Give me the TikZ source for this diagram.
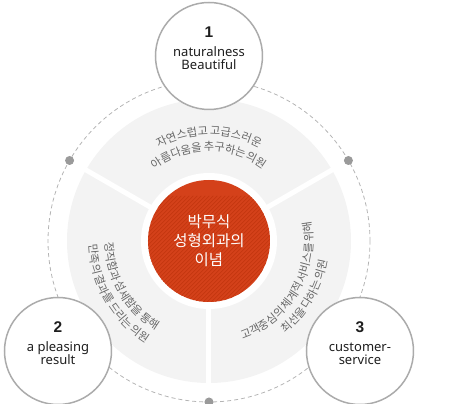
\documentclass[tikz,border=0pt]{standalone}
\usepackage{fontspec}
\setmainfont{Noto Sans}
\newfontfamily\kofont{Noto Sans CJK KR}
\newfontfamily\kotight[LetterSpace=-7]{Noto Sans CJK KR}
\newfontfamily\numfont{Liberation Sans}
\usetikzlibrary{decorations.text}
\definecolor{hubred}{HTML}{D4411A}
\definecolor{stripered}{HTML}{C4360F}
\definecolor{diskgray}{HTML}{F3F3F3}
\definecolor{rimgray}{HTML}{ABABAB}
\definecolor{dashgray}{HTML}{B4B4B4}
\definecolor{dotgray}{HTML}{9A9A9A}
\definecolor{txtgray}{HTML}{666666}
\definecolor{inkdark}{HTML}{1E1E1E}
\begin{document}
\begin{tikzpicture}[x=1pt,y=1pt,
  bubble/.style={circle,draw=rimgray,line width=1.5pt,fill=white,minimum size=107pt,inner sep=0pt},
  bubbletext/.style={align=center,font=\fontsize{13}{13}\selectfont,text=inkdark},
  hub/.style={circle,fill=hubred,minimum size=122pt,inner sep=0pt,text=white,align=center,
    font=\kofont\fontsize{15.5}{19}\selectfont,
    path picture={\foreach \k in {-150,-146,...,150}
      \draw[stripered,line width=0.8pt] (\k-70,-70) -- (\k+70,70);}},
  arctext/.style={decorate,decoration={text along path,text align=center,
    text={|\kotight\fontsize{11.2}{12}\selectfont\color{txtgray}|#1}}}]
  \useasboundingbox (-209,-163) rectangle (242,241);
  % dashed orbit and its dots
  \draw[dashgray,line width=0.8pt,dash pattern=on 4pt off 3pt] (0,0) circle (161);
  \foreach \a in {30,150,270}
    \fill[dotgray] (\a:161) circle (4.5);
  % gray disk cut in three
  \fill[diskgray] (0,0) circle (142);
  \foreach \a in {30,150,270}
    \draw[white,line width=5pt] (0,0) -- (\a:146);
  \fill[white] (0,0) circle (68);
  \node[hub] (hub) at (0,0) {박무식\\성형외과의\\이념};
  % texts round the hub
  \path[arctext={자연스럽고 고급스러운}] (150:106) arc[start angle=150,end angle=30,radius=106];
  \path[arctext={아름다움을 추구하는 의원}] (150:90) arc[start angle=150,end angle=30,radius=90];
  \path[arctext={정직함과 섬세함을 통해}] (150:104) arc[start angle=150,end angle=270,radius=104];
  \path[arctext={만족의 결과를 드리는 의원}] (150:120) arc[start angle=150,end angle=270,radius=120];
  \path[arctext={고객중심의 체계적 서비스를 위해}] (270:104) arc[start angle=270,end angle=390,radius=104];
  \path[arctext={최선을 다하는 의원}] (270:120) arc[start angle=270,end angle=390,radius=120];
  % the three bubbles
  \node[bubble] (beauty) at (0,185) {};
  \node[bubble] (result) at (-151,-110) {};
  \node[bubble] (service) at (151,-110) {};
  \node[bubbletext] at ([yshift=8pt]beauty.center) {{\numfont\bfseries\fontsize{15.5}{16}\selectfont 1}\\[6pt]naturalness\\Beautiful};
  \node[bubbletext] at ([yshift=8pt]result.center) {{\numfont\bfseries\fontsize{15.5}{16}\selectfont 2}\\[6pt]a pleasing\\result};
  \node[bubbletext] at ([yshift=8pt]service.center) {{\numfont\bfseries\fontsize{15.5}{16}\selectfont 3}\\[6pt]customer-\\service};
\end{tikzpicture}
\end{document}
